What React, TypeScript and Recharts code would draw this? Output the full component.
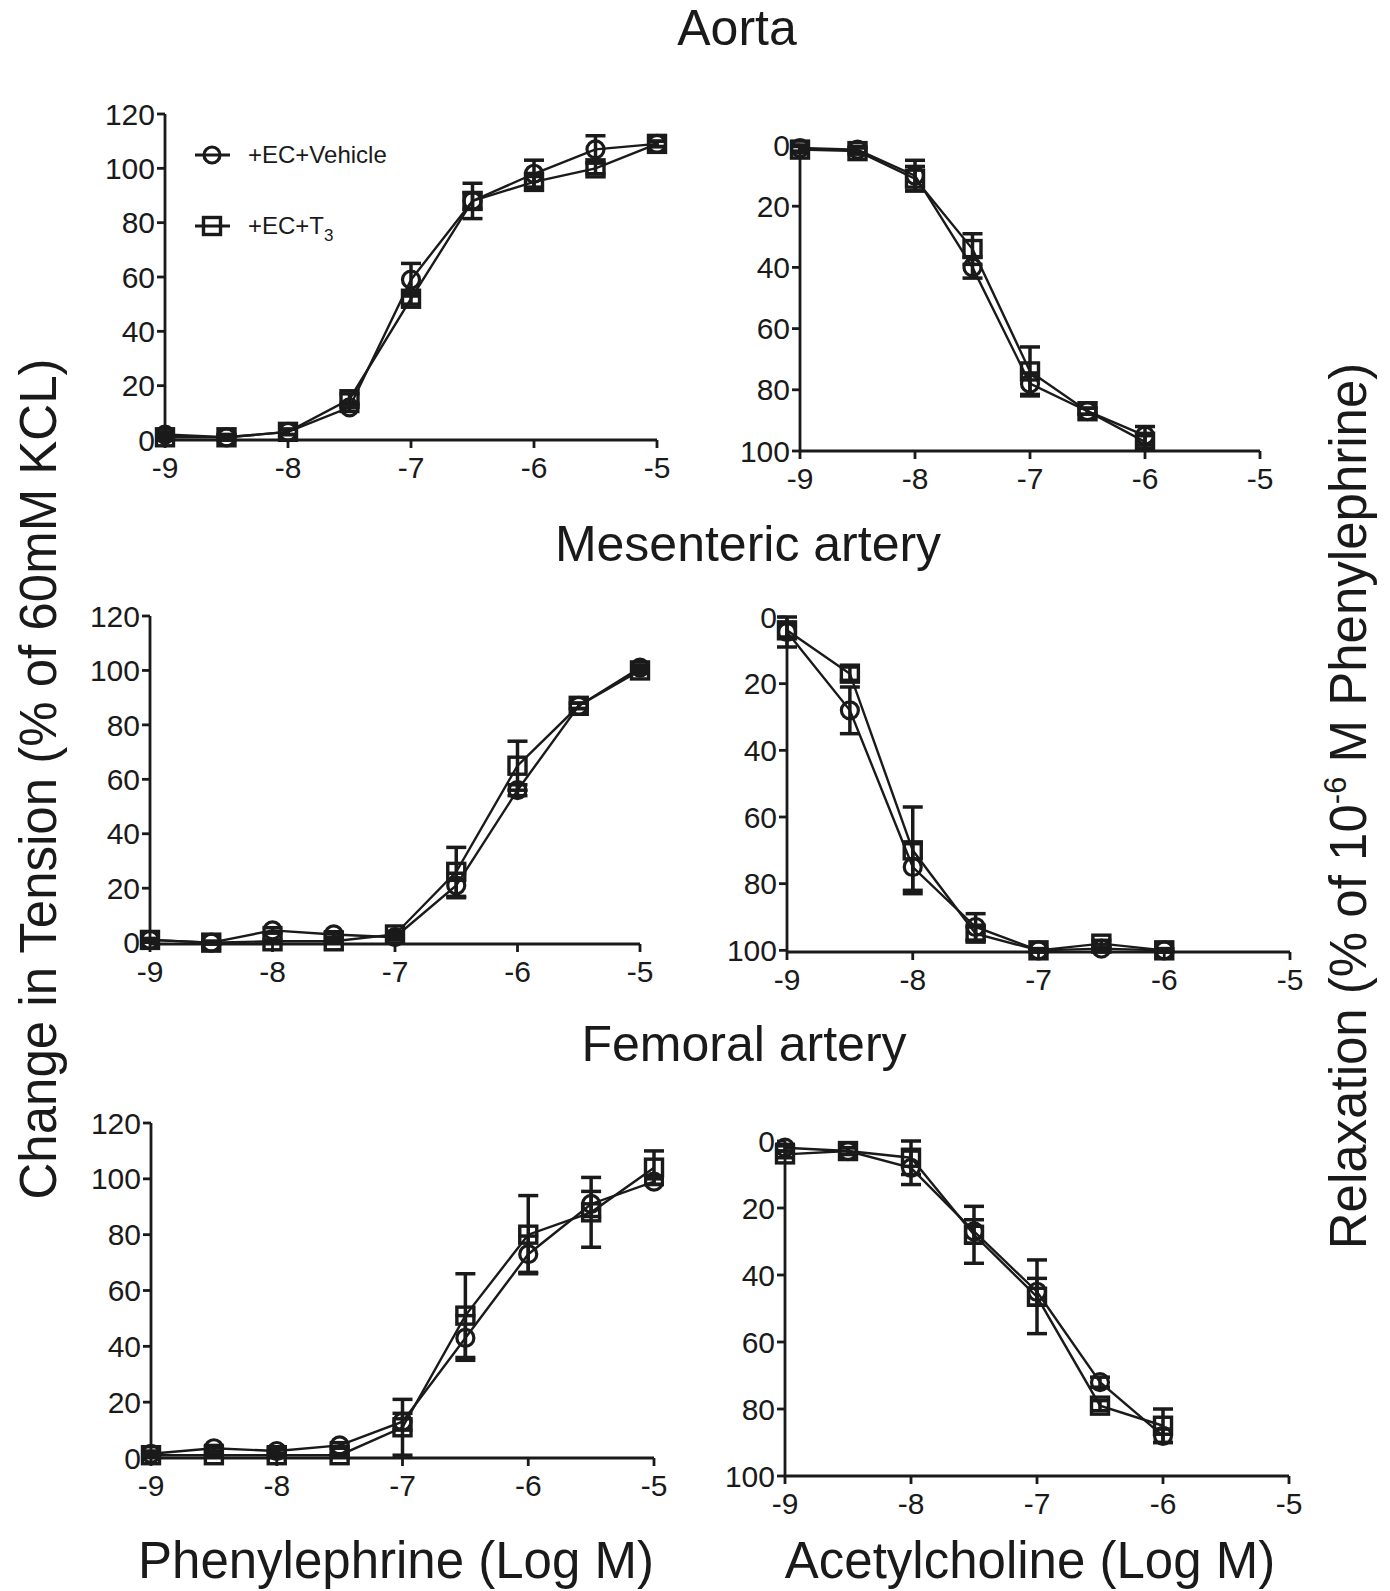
import React from 'react';
import { LineChart, Line, XAxis, YAxis, ErrorBar } from 'recharts';

const FONT = '"Liberation Sans", Arial, Helvetica, sans-serif';
const INK = '#1a1a1a';

// concentrations (log M)
const peDoses = [-9, -8.5, -8, -7.5, -7, -6.5, -6, -5.5, -5];
const achDoses = [-9, -8.5, -8, -7.5, -7, -6.5, -6];
const xTicks = [-9, -8, -7, -6, -5];
const tensionTicks = [0, 20, 40, 60, 80, 100, 120];
const relaxTicks = [0, 20, 40, 60, 80, 100];

// Aorta - phenylephrine
const aortaPeVeh = [2, 1, 3, 12, 59, 88, 98, 107, 109];
const aortaPeVehErr = [1, 1, 1, 1.5, 6, 3, 5, 5, 1];
const aortaPeT3 = [1, 1, 3, 15, 52, 88, 95, 100, 109];
const aortaPeT3Err = [1, 1, 1, 2, 2, 6.5, 2, 2, 1];

// Aorta - acetylcholine
const aortaAchVeh = [1, 1.5, 10, 40, 78, 87, 95];
const aortaAchVehErr = [1, 1, 5, 3.5, 3.5, 1, 3];
const aortaAchT3 = [1.5, 2, 11, 34, 74, 87, 97];
const aortaAchT3Err = [1, 1, 4, 5, 8, 1, 2];

// Mesenteric - phenylephrine
const mesPeVeh = [1, 0, 4.5, 3, 2, 21, 56, 87, 101];
const mesPeVehErr = [0.5, 0.5, 1, 1, 1, 4.5, 2, 1, 1];
const mesPeT3 = [1, 0, 0.5, 0.5, 3, 26, 65, 87, 100];
const mesPeT3Err = [0.5, 0.5, 0.5, 0.5, 1, 9, 9, 1, 1];

// Mesenteric - acetylcholine
const mesAchVeh = [4.5, 28, 75, 93, 100, 99.5, 100];
const mesAchVehErr = [4.5, 7, 7, 4, 0.5, 0.5, 0.5];
const mesAchT3 = [4, 17, 70, 95, 100, 98, 100];
const mesAchT3Err = [2, 2, 13, 2, 0.5, 1, 0.5];

// Femoral - phenylephrine
const femPeVeh = [1.5, 3.5, 2.5, 4.5, 13, 43, 73, 91, 99];
const femPeVehErr = [1, 1, 1, 1, 3, 8, 6.5, 4.5, 1];
const femPeT3 = [1, 1, 1, 1, 11, 51, 80, 88, 104];
const femPeT3Err = [0.5, 0.5, 0.5, 0.5, 10, 15, 14, 12.5, 6];

// Femoral - acetylcholine
const femAchVeh = [2, 3, 8, 27, 45, 72, 88];
const femAchVehErr = [1, 1, 5, 3.5, 4, 1.5, 2];
const femAchT3 = [4, 3, 5, 28, 46.5, 79, 85];
const femAchT3Err = [1, 1, 5, 8.5, 11, 1.5, 5];

function buildRows(doses: number[], veh: number[], vehErr: number[], t3: number[], t3Err: number[]) {
  return doses.map((x, i) => ({ x, veh: veh[i], vehErr: vehErr[i], t3: t3[i], t3Err: t3Err[i] }));
}

const CircleDot = (props: any) => {
  const { cx, cy, index } = props;
  if (cx == null || cy == null) return null;
  return <circle key={`c-${index}`} cx={cx} cy={cy} r={8.5} fill="none" stroke={INK} strokeWidth={3.2} />;
};

const SquareDot = (props: any) => {
  const { cx, cy, index } = props;
  if (cx == null || cy == null) return null;
  return <rect key={`s-${index}`} x={cx - 8.5} y={cy - 8.5} width={17} height={17} fill="none" stroke={INK} strokeWidth={3.4} />;
};

interface PanelProps {
  box: [number, number, number, number]; // plot area: left, top, right, bottom
  rows: any[];
  reversed?: boolean;
}

function Panel({ box, rows, reversed }: PanelProps) {
  const [x0, y0, x1, y1] = box;
  const pw = x1 - x0;
  const ph = y1 - y0;
  const YW = 80, MT = 20, MR = 30, XH = 50;
  const yMax = reversed ? 100 : 120;
  const tickStyle = { fill: INK, fontSize: 30, fontFamily: FONT };

  return (
    <div style={{ position: 'absolute', left: x0 - YW, top: y0 - MT }}>
      <LineChart
        width={pw + YW + MR}
        height={ph + MT + XH}
        data={rows}
        margin={{ top: MT, right: MR, left: 0, bottom: 0 }}
      >
        <XAxis
          type="number"
          dataKey="x"
          domain={[-9, -5]}
          ticks={xTicks}
          interval={0}
          height={XH}
          axisLine={{ stroke: INK, strokeWidth: 2.8 }}
          tickLine={{ stroke: INK, strokeWidth: 2.8 }}
          tickSize={8}
          tickMargin={9}
          tick={tickStyle}
        />
        <YAxis
          type="number"
          domain={[0, yMax]}
          ticks={reversed ? relaxTicks : tensionTicks}
          reversed={reversed}
          interval={0}
          width={YW}
          axisLine={{ stroke: INK, strokeWidth: 2.8 }}
          tickLine={{ stroke: INK, strokeWidth: 2.8 }}
          tickSize={8}
          tickMargin={2}
          tick={tickStyle}
        />
        <Line type="linear" dataKey="veh" stroke={INK} strokeWidth={2.4} dot={CircleDot} activeDot={false} isAnimationActive={false}>
          <ErrorBar dataKey="vehErr" direction="y" width={10} stroke={INK} strokeWidth={3.5} isAnimationActive={false} />
        </Line>
        <Line type="linear" dataKey="t3" stroke={INK} strokeWidth={2.4} dot={SquareDot} activeDot={false} isAnimationActive={false}>
          <ErrorBar dataKey="t3Err" direction="y" width={10} stroke={INK} strokeWidth={3.5} isAnimationActive={false} />
        </Line>
      </LineChart>
    </div>
  );
}

export default function App() {
  const textProps = { fill: INK, fontFamily: FONT };

  return (
    <div style={{ position: 'absolute', left: 0, top: 0, width: 1390, height: 1591, background: '#fff', overflow: 'hidden' }}>
      <Panel box={[165, 114, 657, 440]} rows={buildRows(peDoses, aortaPeVeh, aortaPeVehErr, aortaPeT3, aortaPeT3Err)} />
      <Panel box={[800, 145, 1260, 451]} rows={buildRows(achDoses, aortaAchVeh, aortaAchVehErr, aortaAchT3, aortaAchT3Err)} reversed />
      <Panel box={[150, 616, 640, 944]} rows={buildRows(peDoses, mesPeVeh, mesPeVehErr, mesPeT3, mesPeT3Err)} />
      <Panel box={[787, 617, 1290, 952]} rows={buildRows(achDoses, mesAchVeh, mesAchVehErr, mesAchT3, mesAchT3Err)} reversed />
      <Panel box={[151, 1123, 654, 1458]} rows={buildRows(peDoses, femPeVeh, femPeVehErr, femPeT3, femPeT3Err)} />
      <Panel box={[785, 1141, 1289, 1476]} rows={buildRows(achDoses, femAchVeh, femAchVehErr, femAchT3, femAchT3Err)} reversed />

      <svg width={1390} height={1591} style={{ position: 'absolute', left: 0, top: 0, pointerEvents: 'none' }}>
        {/* panel titles */}
        <text x={737} y={45} textAnchor="middle" fontSize={50} {...textProps}>Aorta</text>
        <text x={748} y={561} textAnchor="middle" fontSize={50} {...textProps}>Mesenteric artery</text>
        <text x={744} y={1061} textAnchor="middle" fontSize={50} {...textProps}>Femoral artery</text>

        {/* x axis titles */}
        <text x={396} y={1578} textAnchor="middle" fontSize={51} {...textProps}>Phenylephrine (Log M)</text>
        <text x={1030} y={1578} textAnchor="middle" fontSize={51} {...textProps}>Acetylcholine (Log M)</text>

        {/* y axis titles */}
        <text transform="translate(56,779) rotate(-90)" textAnchor="middle" fontSize={51} {...textProps}>
          Change in Tension (% of 60mM KCL)
        </text>
        <text transform="translate(1366,806) rotate(-90)" textAnchor="middle" fontSize={51} {...textProps}>
          Relaxation (% of 10<tspan dy={-20} fontSize={31}>-6</tspan><tspan dy={20}> M Phenylephrine)</tspan>
        </text>

        {/* legend */}
        <line x1={195} y1={155} x2={230} y2={155} stroke={INK} strokeWidth={2.8} />
        <circle cx={212} cy={155} r={8} fill="none" stroke={INK} strokeWidth={3.2} />
        <text x={248} y={163} fontSize={24} {...textProps}>+EC+Vehicle</text>
        <line x1={195} y1={226} x2={230} y2={226} stroke={INK} strokeWidth={2.8} />
        <rect x={203.5} y={217.5} width={17} height={17} fill="none" stroke={INK} strokeWidth={3.4} />
        <text x={248} y={234} fontSize={24} {...textProps}>
          +EC+T<tspan dy={7} fontSize={17}>3</tspan>
        </text>
      </svg>
    </div>
  );
}
